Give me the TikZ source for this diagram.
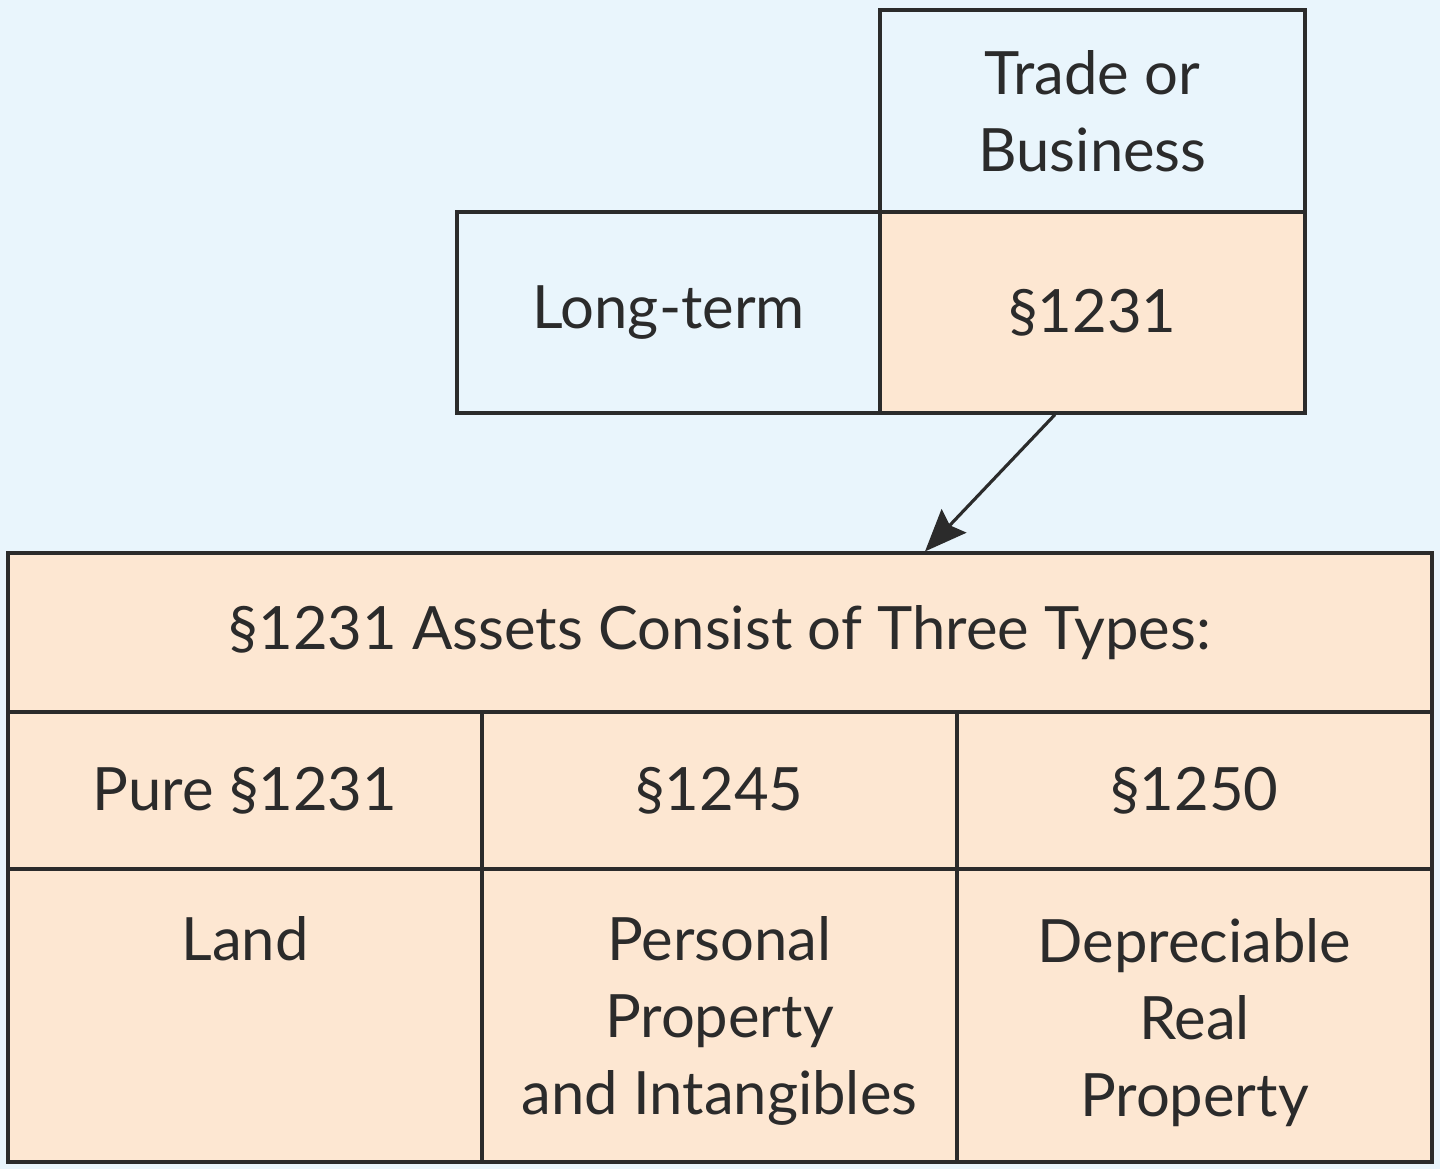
\documentclass[tikz,border=0pt]{standalone}
\usepackage{fontspec}
\setmainfont{Lato}
\usetikzlibrary{arrows.meta,positioning}
\definecolor{bgblue}{HTML}{E9F5FC}
\definecolor{peach}{HTML}{FDE7D2}
\definecolor{ink}{HTML}{2B2B2B}
\tikzset{
  cell/.style={rectangle,draw=ink,line width=0.9pt,inner sep=0pt,text=ink,
    font=\fontsize{17}{22}\selectfont,align=center},
  bluecell/.style={cell,fill=bgblue},
  peachcell/.style={cell,fill=peach},
  txt/.style={inner sep=0pt,text=ink,font=\fontsize{17}{22}\selectfont,align=center},
}
\begin{document}
\begin{tikzpicture}
  \fill[bgblue] (0,0) rectangle (14.4,-11.69);
  \useasboundingbox (0,0) rectangle (14.4,-11.69);

  % upper blocks
  \node[bluecell,minimum width=4.25cm,minimum height=2.02cm] (trade) at (10.925,-1.11) {Trade or\\Business};
  \node[bluecell,minimum width=4.23cm,minimum height=2.01cm] (lt) at (6.685,-3.125) {Long-term};
  \node[peachcell,minimum width=4.25cm,minimum height=2.01cm] (sec) at (10.925,-3.125) {§1231};

  % table of asset types
  \node[peachcell,minimum width=14.24cm,minimum height=1.59cm] (head) at (7.2,-6.325) {§1231 Assets Consist of Three Types:};
  \node[peachcell,minimum width=4.74cm,minimum height=1.57cm] (pure) at (2.45,-7.905) {Pure §1231};
  \node[peachcell,minimum width=4.75cm,minimum height=1.57cm] (s45) at (7.195,-7.905) {§1245};
  \node[peachcell,minimum width=4.75cm,minimum height=1.57cm] (s50) at (11.945,-7.905) {§1250};
  \node[peachcell,minimum width=4.74cm,minimum height=2.93cm] (land) at (2.45,-10.155) {};
  \node[peachcell,minimum width=4.75cm,minimum height=2.93cm] (pers) at (7.195,-10.155) {};
  \node[peachcell,minimum width=4.75cm,minimum height=2.93cm] (real) at (11.945,-10.155) {};

  \node[txt,below=0.48cm of land.north] (landtxt) {Land};
  \node[txt,below=0.48cm of pers.north] (perstxt) {Personal\\Property\\and Intangibles};
  \node[txt,below=0.5cm of real.north] (realtxt) {Depreciable\\Real\\Property};

  \draw[ink,line width=0.9pt,-{Stealth[length=0.42cm,width=0.34cm,inset=0.06cm]}]
    ([xshift=-0.375cm]sec.south) -- ([xshift=2.05cm]head.north);
\end{tikzpicture}
\end{document}
